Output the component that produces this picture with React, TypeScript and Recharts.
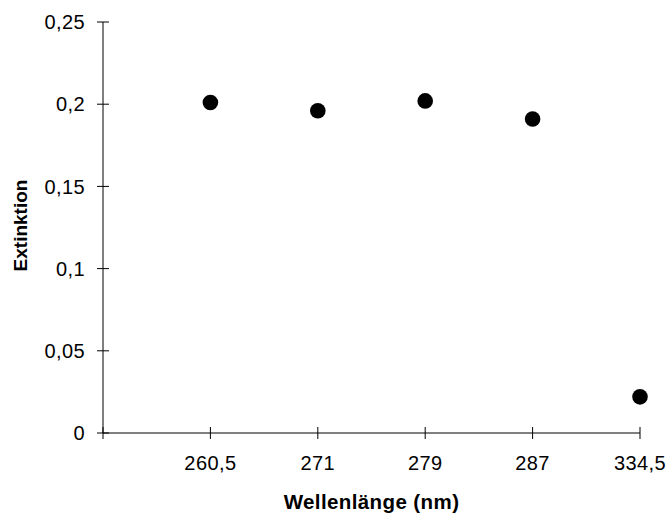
import React from 'react';
import { ScatterChart, Scatter, XAxis, YAxis } from 'recharts';

const wavelengths: string[] = ['260,5', '271', '279', '287', '334,5'];
const extinction: number[] = [0.201, 0.196, 0.202, 0.191, 0.022];
const yTicks: number[] = [0, 0.05, 0.1, 0.15, 0.2, 0.25];
const xTicks: number[] = [0, 1, 2, 3, 4, 5];

const data = wavelengths.map((w, i) => ({ x: i + 1, y: extinction[i], label: w }));

const FONT = "'Liberation Sans', Arial, Helvetica, sans-serif";
const TICK = 6;
const X_MARGIN = 17;
const Y_MARGIN = 12;

const fmtY = (v: number) => String(v).replace('.', ',');

const XTick = (props: any) => {
  const { x, y, payload } = props;
  const v = payload.value as number;
  const label = v >= 1 && v <= wavelengths.length ? wavelengths[v - 1] : '';
  const axisY = y - X_MARGIN - TICK;
  return (
    <g>
      <line x1={x} x2={x} y1={axisY - TICK} y2={axisY + TICK} stroke="#000" strokeWidth={1} />
      <text x={x} y={y} dy="0.71em" textAnchor="middle" fontFamily={FONT} fontSize={20} fill="#000" letterSpacing={0.4}>
        {label}
      </text>
    </g>
  );
};

const YTick = (props: any) => {
  const { x, y, payload } = props;
  const axisX = x + Y_MARGIN + TICK;
  return (
    <g>
      <line x1={axisX - TICK} x2={axisX + TICK} y1={y} y2={y} stroke="#000" strokeWidth={1} />
      <text x={x} y={y} dy="0.355em" textAnchor="end" fontFamily={FONT} fontSize={20} fill="#000" letterSpacing={0.4}>
        {fmtY(payload.value)}
      </text>
    </g>
  );
};

const XTitle = (props: any) => {
  const vb = props.viewBox || {};
  return (
    <text x={vb.x + vb.width / 2} y={vb.y + 75.5} textAnchor="middle" fontFamily={FONT} fontSize={20.5} fontWeight="bold" fill="#000" letterSpacing={0.4}>
      Wellenlänge (nm)
    </text>
  );
};

const YTitle = (props: any) => {
  const vb = props.viewBox || {};
  const cx = vb.x + 27;
  const cy = vb.y + vb.height / 2 - 2;
  return (
    <text x={cx} y={cy} transform={`rotate(-90, ${cx}, ${cy})`} textAnchor="middle" fontFamily={FONT} fontSize={19} fontWeight="bold" fill="#000">
      Extinktion
    </text>
  );
};

const Dot = (props: any) => <circle cx={props.cx} cy={props.cy} r={7.8} fill="#000" />;

export default function App() {
  return (
    <div style={{ position: 'absolute', left: 0, top: 0, width: 672, height: 520, background: '#fff' }}>
      <ScatterChart width={672} height={520} margin={{ top: 22, right: 32, left: 0, bottom: 0 }}>
        <XAxis
          type="number"
          dataKey="x"
          domain={[0, 5]}
          ticks={xTicks}
          interval={0}
          height={87}
          tickSize={TICK}
          tickMargin={X_MARGIN}
          tickLine={false}
          axisLine={{ stroke: '#000', strokeWidth: 1 }}
          tick={<XTick />}
          label={{ content: <XTitle /> }}
        />
        <YAxis
          type="number"
          dataKey="y"
          domain={[0, 0.25]}
          ticks={yTicks}
          interval={0}
          width={103}
          tickSize={TICK}
          tickMargin={Y_MARGIN}
          tickLine={false}
          axisLine={{ stroke: '#000', strokeWidth: 1 }}
          tick={<YTick />}
          label={{ content: <YTitle /> }}
        />
        <Scatter data={data} isAnimationActive={false} shape={<Dot />} />
      </ScatterChart>
    </div>
  );
}
